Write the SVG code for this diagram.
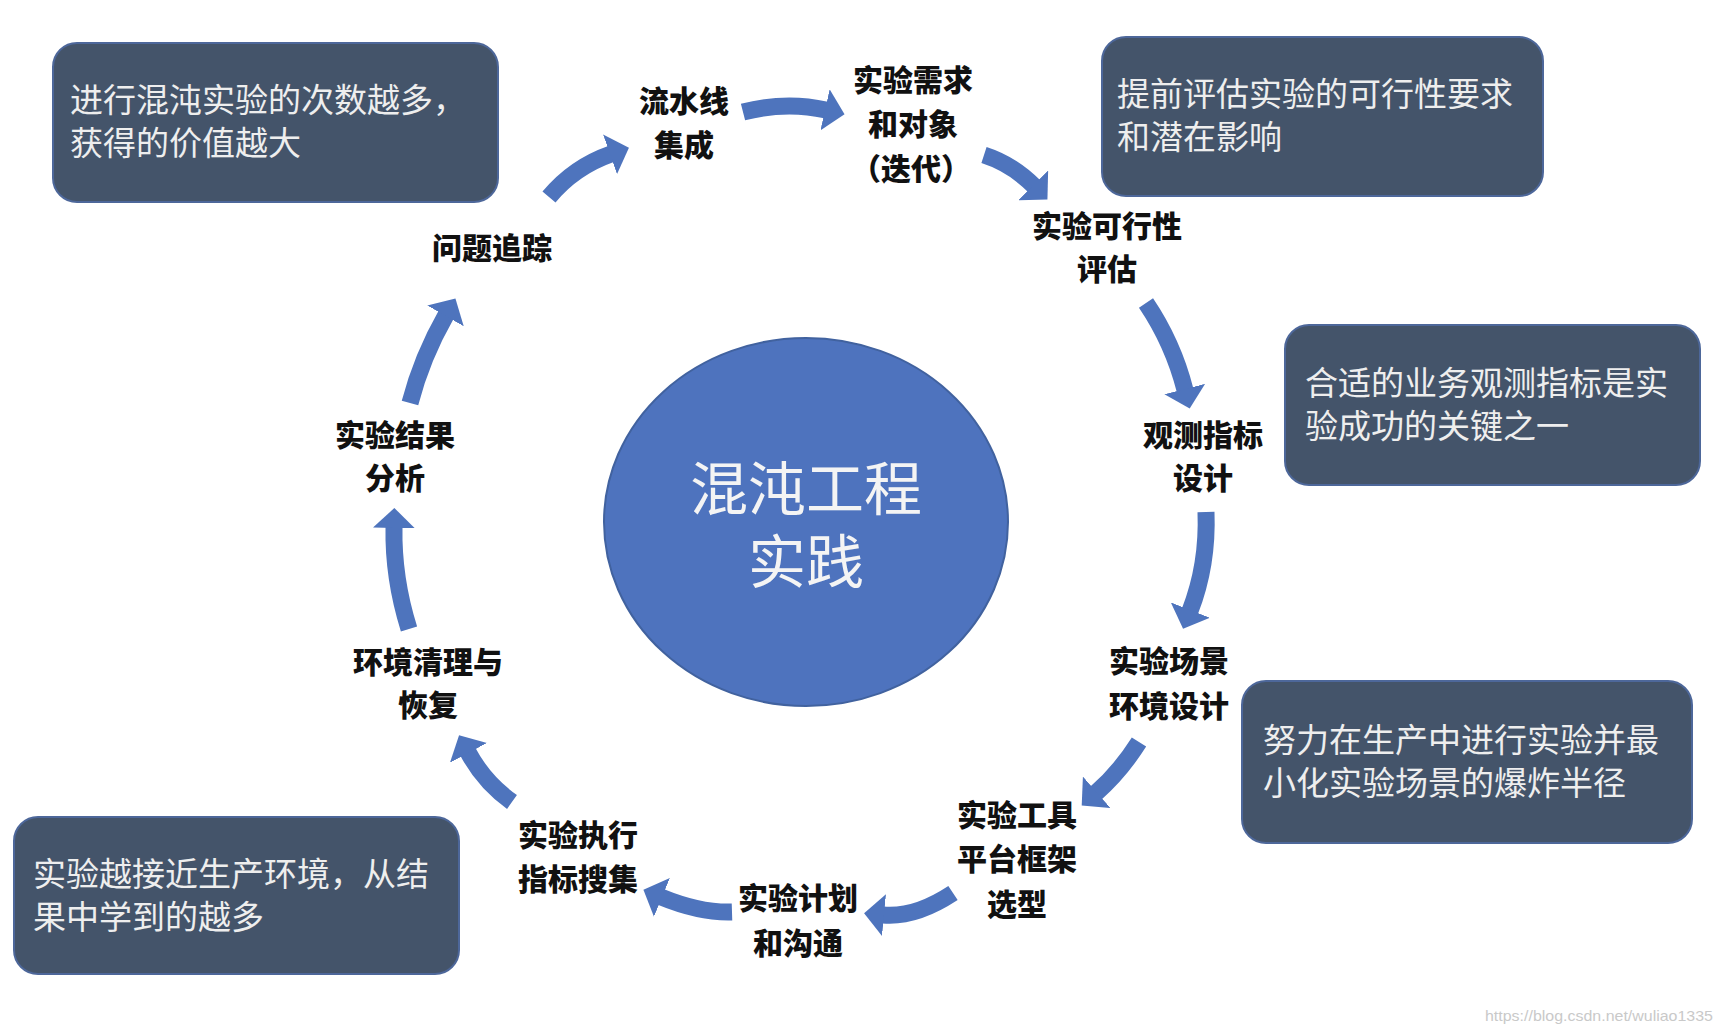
<svg xmlns="http://www.w3.org/2000/svg" width="1722" height="1034" viewBox="0 0 1722 1034">
<defs>
<style>
.box{fill:#44546a;stroke:#4d679a;stroke-width:2}
.bt{font-family:"Noto Sans CJK SC","Noto Sans",sans-serif;font-size:33px;fill:#eeeeee}
.lb{font-family:"Noto Sans CJK SC","Noto Sans",sans-serif;font-size:30px;font-weight:900;fill:#111111;text-anchor:middle}
.arr{fill:none;stroke:#4e74bd;stroke-width:17;stroke-linecap:butt;marker-end:url(#head)}
</style>
<marker id="head" markerUnits="userSpaceOnUse" markerWidth="22" markerHeight="42" refX="1" refY="21" orient="auto">
<path d="M0,0 L20,21 L0,42 Z" fill="#4e74bd"/>
</marker>
</defs>
<rect width="1722" height="1034" fill="#ffffff"/>

<g id="center">
<ellipse cx="806" cy="522" rx="202" ry="184" fill="#4e73be" stroke="#41629f" stroke-width="2"/>
<text x="806" y="510" font-family="'Noto Sans CJK SC',sans-serif" font-size="58" fill="#f4f4f4" text-anchor="middle"><tspan x="806" y="510">混沌工程</tspan><tspan x="806" y="583">实践</tspan></text>
</g>

<g id="note1">
<rect class="box" x="53" y="43" width="445" height="159" rx="24"/>
<text class="bt"><tspan x="70" y="112">进行混沌实验的次数越多，</tspan><tspan x="70" y="155">获得的价值越大</tspan></text>
</g>
<g id="note2">
<rect class="box" x="1102" y="37" width="441" height="159" rx="24"/>
<text class="bt"><tspan x="1117" y="106">提前评估实验的可行性要求</tspan><tspan x="1117" y="149">和潜在影响</tspan></text>
</g>
<g id="note3">
<rect class="box" x="1285" y="325" width="415" height="160" rx="24"/>
<text class="bt"><tspan x="1305" y="395">合适的业务观测指标是实</tspan><tspan x="1305" y="438">验成功的关键之一</tspan></text>
</g>
<g id="note4">
<rect class="box" x="1242" y="681" width="450" height="162" rx="24"/>
<text class="bt"><tspan x="1263" y="752">努力在生产中进行实验并最</tspan><tspan x="1263" y="795">小化实验场景的爆炸半径</tspan></text>
</g>
<g id="note5">
<rect class="box" x="14" y="817" width="445" height="157" rx="24"/>
<text class="bt"><tspan x="33" y="886">实验越接近生产环境，从结</tspan><tspan x="33" y="929">果中学到的越多</tspan></text>
</g>

<g id="step-pipeline">
<text class="lb"><tspan x="684" y="112">流水线</tspan><tspan x="684" y="156">集成</tspan></text>
</g>
<g id="step-requirements">
<text class="lb"><tspan x="913" y="91">实验需求</tspan><tspan x="913" y="135">和对象</tspan><tspan x="911" y="180">（迭代）</tspan></text>
</g>
<g id="step-feasibility">
<text class="lb"><tspan x="1107" y="237">实验可行性</tspan><tspan x="1107" y="280">评估</tspan></text>
</g>
<g id="step-metrics">
<text class="lb"><tspan x="1203" y="446">观测指标</tspan><tspan x="1203" y="489">设计</tspan></text>
</g>
<g id="step-scenario">
<text class="lb"><tspan x="1169" y="672">实验场景</tspan><tspan x="1169" y="717">环境设计</tspan></text>
</g>
<g id="step-tools">
<text class="lb"><tspan x="1017" y="826">实验工具</tspan><tspan x="1017" y="870">平台框架</tspan><tspan x="1017" y="915">选型</tspan></text>
</g>
<g id="step-plan">
<text class="lb"><tspan x="798" y="909">实验计划</tspan><tspan x="798" y="954">和沟通</tspan></text>
</g>
<g id="step-execute">
<text class="lb"><tspan x="578" y="846">实验执行</tspan><tspan x="578" y="890">指标搜集</tspan></text>
</g>
<g id="step-cleanup">
<text class="lb"><tspan x="428" y="673">环境清理与</tspan><tspan x="428" y="716">恢复</tspan></text>
</g>
<g id="step-analysis">
<text class="lb"><tspan x="395" y="446">实验结果</tspan><tspan x="395" y="489">分析</tspan></text>
</g>
<g id="step-tracking">
<text class="lb" x="492" y="259">问题追踪</text>
</g>

<g id="connectors">
<path class="arr" d="M549,197 Q574,167 611,154"/>
<path class="arr" d="M743,112 Q786,101 826,110"/>
<path class="arr" d="M984,155 Q1012,164 1034,186"/>
<path class="arr" d="M1146,303 Q1173,343 1185,390"/>
<path class="arr" d="M1206,512 Q1208,565 1190,611"/>
<path class="arr" d="M1139,742 Q1120,772 1096,793"/>
<path class="arr" d="M953,893 Q915,918 883,915"/>
<path class="arr" d="M732,912 Q700,913 661,897"/>
<path class="arr" d="M512,802 Q484,782 468,752"/>
<path class="arr" d="M409,629 Q393,578 394,527"/>
<path class="arr" d="M410,403 Q422,357 446,315"/>
</g>

<text x="1485" y="1021" font-family="'Liberation Sans',sans-serif" font-size="15" fill="#c9c9c9" textLength="228" lengthAdjust="spacingAndGlyphs">https://blog.csdn.net/wuliao1335</text>
</svg>
